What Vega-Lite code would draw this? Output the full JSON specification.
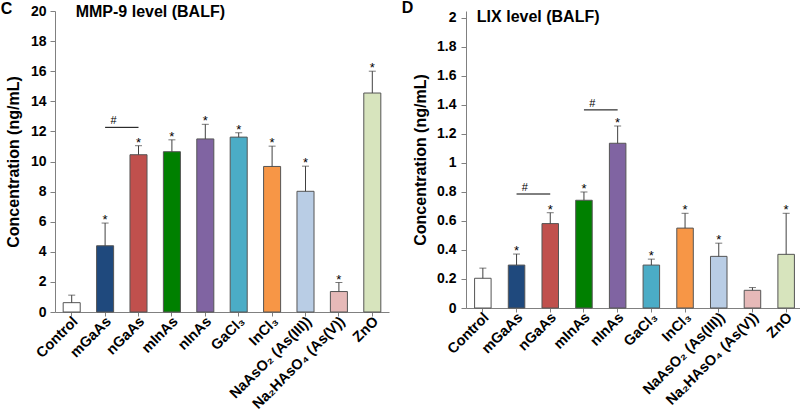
{
  "$schema": "https://vega.github.io/schema/vega-lite/v6.json",
  "padding": {"left": 0, "top": 0, "right": 0, "bottom": 0},
  "background": "white",
  "spacing": 12,
  "config": {
    "view": {"stroke": null},
    "font": "Liberation Sans",
    "axis": {
      "labelFont": "Liberation Sans",
      "labelFontWeight": "bold",
      "labelColor": "#000",
      "labelFontSize": 14,
      "titleFont": "Liberation Sans",
      "titleFontWeight": "bold",
      "titleFontSize": 16,
      "titleColor": "#000",
      "domainColor": "#808080",
      "tickColor": "#808080",
      "grid": false,
      "tickSize": 5,
      "labelOverlap": false
    }
  },
  "datasets": {
    "mmp": [
      {"g": "Control", "v": 0.62, "e": 1.12, "s": ""},
      {"g": "mGaAs", "v": 4.4, "e": 5.91, "s": "*"},
      {"g": "nGaAs", "v": 10.45, "e": 11.05, "s": "*"},
      {"g": "mInAs", "v": 10.65, "e": 11.44, "s": "*"},
      {"g": "nInAs", "v": 11.5, "e": 12.47, "s": "*"},
      {"g": "GaCl₃", "v": 11.62, "e": 11.91, "s": "*"},
      {"g": "InCl₃", "v": 9.67, "e": 11.02, "s": "*"},
      {"g": "NaAsO₂ (As(III))", "v": 8.02, "e": 9.69, "s": "*"},
      {"g": "Na₂HAsO₄ (As(V))", "v": 1.36, "e": 1.96, "s": "*"},
      {"g": "ZnO", "v": 14.55, "e": 16.0, "s": "*"}
    ],
    "lix": [
      {"g": "Control", "v": 0.205, "e": 0.275, "s": ""},
      {"g": "mGaAs", "v": 0.296, "e": 0.372, "s": "*"},
      {"g": "nGaAs", "v": 0.582, "e": 0.657, "s": "*"},
      {"g": "mInAs", "v": 0.743, "e": 0.8, "s": "*"},
      {"g": "nInAs", "v": 1.136, "e": 1.255, "s": "*"},
      {"g": "GaCl₃", "v": 0.296, "e": 0.337, "s": "*"},
      {"g": "InCl₃", "v": 0.551, "e": 0.653, "s": "*"},
      {"g": "NaAsO₂ (As(III))", "v": 0.356, "e": 0.447, "s": "*"},
      {"g": "Na₂HAsO₄ (As(V))", "v": 0.122, "e": 0.141, "s": ""},
      {"g": "ZnO", "v": 0.37, "e": 0.653, "s": "*"}
    ],
    "mmpHash": [{"a": "mGaAs", "b": "nGaAs", "y": 12.27}],
    "lixHash": [
      {"a": "mGaAs", "b": "nGaAs", "y": 0.786},
      {"a": "mInAs", "b": "nInAs", "y": 1.366}
    ]
  },
  "hconcat": [
    {
      "width": 334,
      "height": 301,
      "encoding": {
        "x": {
          "field": "g",
          "type": "nominal",
          "sort": ["Control", "mGaAs", "nGaAs", "mInAs", "nInAs", "GaCl₃", "InCl₃", "NaAsO₂ (As(III))", "Na₂HAsO₄ (As(V))", "ZnO"],
          "scale": {"domain": ["Control", "mGaAs", "nGaAs", "mInAs", "nInAs", "GaCl₃", "InCl₃", "NaAsO₂ (As(III))", "Na₂HAsO₄ (As(V))", "ZnO"], "paddingInner": 0.49, "paddingOuter": 0.245},
          "axis": {"title": null, "labelAngle": -45, "labelAlign": "right", "labelBaseline": "middle", "labelFontSize": 14.5, "tickSize": 4, "labelPadding": 3, "labelOffset": 4}
        }
      },
      "layer": [
        {
          "data": {"name": "mmp"},
          "mark": {"type": "bar", "stroke": "#555555", "strokeWidth": 1},
          "encoding": {
            "y": {"field": "v", "type": "quantitative", "scale": {"domain": [0, 20], "nice": false}, "axis": {"title": "Concentration (ng/mL)", "values": [0, 2, 4, 6, 8, 10, 12, 14, 16, 18, 20], "labelOverlap": false, "labelPadding": 4, "titlePadding": 9}},
            "color": {
              "field": "g", "type": "nominal", "legend": null,
              "scale": {"domain": ["Control", "mGaAs", "nGaAs", "mInAs", "nInAs", "GaCl₃", "InCl₃", "NaAsO₂ (As(III))", "Na₂HAsO₄ (As(V))", "ZnO"],
                        "range": ["#FFFFFF", "#1F497D", "#C0504D", "#008000", "#8064A2", "#4BACC6", "#F79646", "#B9CDE5", "#E6B9B8", "#D7E4BD"]}
            }
          }
        },
        {
          "data": {"name": "mmp"},
          "mark": {"type": "rule", "color": "#404040", "strokeWidth": 1},
          "encoding": {"y": {"field": "v", "type": "quantitative", "axis": {"title": "Concentration (ng/mL)", "values": [0, 2, 4, 6, 8, 10, 12, 14, 16, 18, 20], "labelOverlap": false, "labelPadding": 4, "titlePadding": 9}}, "y2": {"field": "e"}}
        },
        {
          "data": {"name": "mmp"},
          "mark": {"type": "tick", "color": "#404040", "thickness": 1, "size": 7},
          "encoding": {"y": {"field": "e", "type": "quantitative", "axis": {"title": "Concentration (ng/mL)", "values": [0, 2, 4, 6, 8, 10, 12, 14, 16, 18, 20], "labelOverlap": false, "labelPadding": 4, "titlePadding": 9}}}
        },
        {
          "data": {"name": "mmp"},
          "mark": {"type": "text", "baseline": "alphabetic", "dy": 1, "fontSize": 13, "color": "#000"},
          "encoding": {"y": {"field": "e", "type": "quantitative", "axis": {"title": "Concentration (ng/mL)", "values": [0, 2, 4, 6, 8, 10, 12, 14, 16, 18, 20], "labelOverlap": false, "labelPadding": 4, "titlePadding": 9}}, "text": {"field": "s"}}
        },
        {
          "data": {"name": "mmpHash"},
          "mark": {"type": "rule", "color": "#000", "strokeWidth": 1},
          "encoding": {"x": {"field": "a"}, "x2": {"field": "b"}, "y": {"field": "y", "type": "quantitative", "axis": {"title": "Concentration (ng/mL)", "values": [0, 2, 4, 6, 8, 10, 12, 14, 16, 18, 20], "labelOverlap": false, "labelPadding": 4, "titlePadding": 9}}}
        },
        {
          "data": {"name": "mmpHash"},
          "mark": {"type": "text", "text": "#", "baseline": "alphabetic", "dy": -3, "fontSize": 11, "color": "#000"},
          "encoding": {"x": {"field": "a", "bandPosition": 1}, "y": {"field": "y", "type": "quantitative", "axis": {"title": "Concentration (ng/mL)", "values": [0, 2, 4, 6, 8, 10, 12, 14, 16, 18, 20], "labelOverlap": false, "labelPadding": 4, "titlePadding": 9}}}
        },
        {
          "data": {"values": [{"t": "MMP-9 level (BALF)"}]},
          "mark": {"type": "text", "align": "left", "baseline": "middle", "dx": 4, "dy": 0.5, "fontSize": 16, "fontWeight": "bold", "color": "#000"},
          "encoding": {"x": {"datum": "Control"}, "y": {"datum": 20, "type": "quantitative", "axis": {"title": "Concentration (ng/mL)", "values": [0, 2, 4, 6, 8, 10, 12, 14, 16, 18, 20], "labelOverlap": false, "labelPadding": 4, "titlePadding": 9}}, "text": {"field": "t"}}
        },
        {
          "data": {"values": [{"t": "C"}]},
          "mark": {"type": "text", "align": "left", "baseline": "middle", "dx": -71, "dy": -2.5, "fontSize": 16, "fontWeight": "bold", "color": "#000"},
          "encoding": {"x": {"datum": "Control"}, "y": {"datum": 20, "type": "quantitative", "axis": {"title": "Concentration (ng/mL)", "values": [0, 2, 4, 6, 8, 10, 12, 14, 16, 18, 20], "labelOverlap": false, "labelPadding": 4, "titlePadding": 9}}, "text": {"field": "t"}}
        }
      ]
    },
    {
      "width": 337,
      "height": 297,
      "encoding": {
        "x": {
          "field": "g",
          "type": "nominal",
          "sort": ["Control", "mGaAs", "nGaAs", "mInAs", "nInAs", "GaCl₃", "InCl₃", "NaAsO₂ (As(III))", "Na₂HAsO₄ (As(V))", "ZnO"],
          "scale": {"domain": ["Control", "mGaAs", "nGaAs", "mInAs", "nInAs", "GaCl₃", "InCl₃", "NaAsO₂ (As(III))", "Na₂HAsO₄ (As(V))", "ZnO"], "paddingInner": 0.51, "paddingOuter": 0.255},
          "axis": {"title": null, "labelAngle": -45, "labelAlign": "right", "labelBaseline": "middle", "labelFontSize": 14.5, "tickSize": 4, "labelPadding": 3, "labelOffset": 4}
        }
      },
      "layer": [
        {
          "data": {"name": "lix"},
          "mark": {"type": "bar", "stroke": "#555555", "strokeWidth": 1},
          "encoding": {
            "y": {"field": "v", "type": "quantitative", "scale": {"domain": [0, 2.048], "nice": false}, "axis": {"title": "Concentration (ng/mL)", "values": [0, 0.2, 0.4, 0.6, 0.8, 1, 1.2, 1.4, 1.6, 1.8, 2], "format": "~g", "labelOverlap": false, "labelPadding": 5, "titlePadding": 8}},
            "color": {
              "field": "g", "type": "nominal", "legend": null,
              "scale": {"domain": ["Control", "mGaAs", "nGaAs", "mInAs", "nInAs", "GaCl₃", "InCl₃", "NaAsO₂ (As(III))", "Na₂HAsO₄ (As(V))", "ZnO"],
                        "range": ["#FFFFFF", "#1F497D", "#C0504D", "#008000", "#8064A2", "#4BACC6", "#F79646", "#B9CDE5", "#E6B9B8", "#D7E4BD"]}
            }
          }
        },
        {
          "data": {"name": "lix"},
          "mark": {"type": "rule", "color": "#404040", "strokeWidth": 1},
          "encoding": {"y": {"field": "v", "type": "quantitative", "axis": {"title": "Concentration (ng/mL)", "values": [0, 0.2, 0.4, 0.6, 0.8, 1, 1.2, 1.4, 1.6, 1.8, 2], "format": "~g", "labelOverlap": false, "labelPadding": 5, "titlePadding": 8}}, "y2": {"field": "e"}}
        },
        {
          "data": {"name": "lix"},
          "mark": {"type": "tick", "color": "#404040", "thickness": 1, "size": 7},
          "encoding": {"y": {"field": "e", "type": "quantitative", "axis": {"title": "Concentration (ng/mL)", "values": [0, 0.2, 0.4, 0.6, 0.8, 1, 1.2, 1.4, 1.6, 1.8, 2], "format": "~g", "labelOverlap": false, "labelPadding": 5, "titlePadding": 8}}}
        },
        {
          "data": {"name": "lix"},
          "mark": {"type": "text", "baseline": "alphabetic", "dy": 1, "fontSize": 13, "color": "#000"},
          "encoding": {"y": {"field": "e", "type": "quantitative", "axis": {"title": "Concentration (ng/mL)", "values": [0, 0.2, 0.4, 0.6, 0.8, 1, 1.2, 1.4, 1.6, 1.8, 2], "format": "~g", "labelOverlap": false, "labelPadding": 5, "titlePadding": 8}}, "text": {"field": "s"}}
        },
        {
          "data": {"name": "lixHash"},
          "mark": {"type": "rule", "color": "#000", "strokeWidth": 1},
          "encoding": {"x": {"field": "a"}, "x2": {"field": "b"}, "y": {"field": "y", "type": "quantitative", "axis": {"title": "Concentration (ng/mL)", "values": [0, 0.2, 0.4, 0.6, 0.8, 1, 1.2, 1.4, 1.6, 1.8, 2], "format": "~g", "labelOverlap": false, "labelPadding": 5, "titlePadding": 8}}}
        },
        {
          "data": {"name": "lixHash"},
          "mark": {"type": "text", "text": "#", "baseline": "alphabetic", "dy": -3, "fontSize": 11, "color": "#000"},
          "encoding": {"x": {"field": "a", "bandPosition": 1}, "y": {"field": "y", "type": "quantitative", "axis": {"title": "Concentration (ng/mL)", "values": [0, 0.2, 0.4, 0.6, 0.8, 1, 1.2, 1.4, 1.6, 1.8, 2], "format": "~g", "labelOverlap": false, "labelPadding": 5, "titlePadding": 8}}}
        },
        {
          "data": {"values": [{"t": "LIX level (BALF)"}]},
          "mark": {"type": "text", "align": "left", "baseline": "middle", "dx": -6, "dy": -1, "fontSize": 16, "fontWeight": "bold", "color": "#000"},
          "encoding": {"x": {"datum": "Control"}, "y": {"datum": 2, "type": "quantitative", "axis": {"title": "Concentration (ng/mL)", "values": [0, 0.2, 0.4, 0.6, 0.8, 1, 1.2, 1.4, 1.6, 1.8, 2], "format": "~g", "labelOverlap": false, "labelPadding": 5, "titlePadding": 8}}, "text": {"field": "t"}}
        },
        {
          "data": {"values": [{"t": "D"}]},
          "mark": {"type": "text", "align": "left", "baseline": "middle", "dx": -81, "dy": -9.5, "fontSize": 16, "fontWeight": "bold", "color": "#000"},
          "encoding": {"x": {"datum": "Control"}, "y": {"datum": 2, "type": "quantitative", "axis": {"title": "Concentration (ng/mL)", "values": [0, 0.2, 0.4, 0.6, 0.8, 1, 1.2, 1.4, 1.6, 1.8, 2], "format": "~g", "labelOverlap": false, "labelPadding": 5, "titlePadding": 8}}, "text": {"field": "t"}}
        }
      ]
    }
  ]
}
